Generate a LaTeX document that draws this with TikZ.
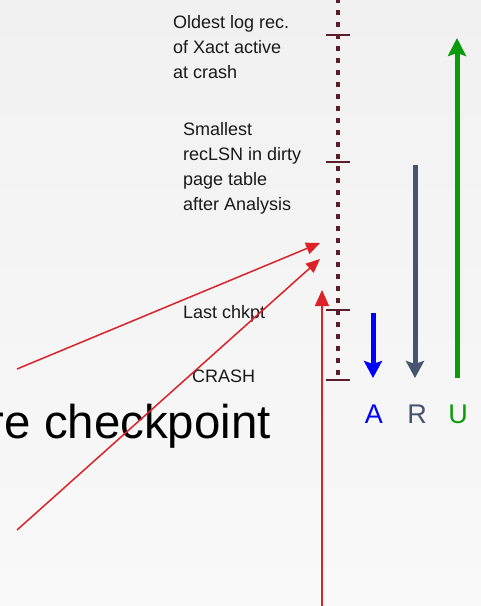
\documentclass[tikz,border=0pt]{standalone}
\usepackage{fontspec}
\setmainfont{Liberation Sans}
\usetikzlibrary{arrows.meta}

\definecolor{logmaroon}{HTML}{5B1D2A}
\definecolor{ptrred}{HTML}{DC2228}
\definecolor{passblue}{HTML}{0000FF}
\definecolor{passslate}{HTML}{465470}
\definecolor{passgreen}{HTML}{0A9A0A}
\definecolor{bgtop}{HTML}{F1F1F1}
\definecolor{bgbot}{HTML}{F9F9F9}

\begin{document}
\begin{tikzpicture}[x=1pt, y=-1pt,
  tick/.style={draw=logmaroon, line width=2.6pt},
  note/.style={inner sep=0pt, align=left, text=black!90, font=\fontsize{18}{25}\selectfont},
  pass/.style={line width=5pt},
  passlbl/.style={inner sep=0pt, anchor=base, font=\fontsize{27}{30}\selectfont},
  ptr/.style={draw=ptrred, line width=1.5pt, -{Triangle[length=14pt,width=12pt]}}]
\useasboundingbox (0,0) rectangle (481,606);
\shade[top color=bgtop, bottom color=bgbot] (0,0) rectangle (481,606);
\clip (0,0) rectangle (481,606);

% the log, oldest record at the top
\coordinate (logtop) at (338,-2);
\coordinate (oldest) at (338,35);
\coordinate (reclsn) at (338,162);
\coordinate (chkpt) at (338,310);
\coordinate (crash) at (338,380);
\draw[logmaroon, line width=4.8pt, dash pattern=on 4.8pt off 7.2pt] (logtop) -- (crash);
\foreach \p in {oldest, reclsn, chkpt, crash}
  \draw[tick] ([xshift=-12pt]\p) -- ([xshift=12pt]\p);

\node[note, anchor=north west] (oldlbl) at (173,15) {Oldest log rec.\\of Xact active\\at crash};
\node[note, anchor=north west] (lsnlbl) at (183,122) {Smallest\\recLSN in dirty\\page table\\after Analysis};
\node[note, anchor=base west] (chklbl) at (183,318) {Last chkpt};
\node[note, anchor=base west] (crashlbl) at (192,382) {CRASH};

\node[inner sep=0pt, anchor=base east, font=\fontsize{47.4}{53}\selectfont] (before) at (271,438) {re checkpoint};

% red pointers into the log
\coordinate (p1s) at (17,369);
\coordinate (p1e) at (320,243);
\coordinate (p2s) at (17,530);
\coordinate (p2e) at (320,259);
\coordinate (p3s) at (322,610);
\coordinate (p3e) at (322,290);
\draw[ptr] (p1s) -- (p1e);
\draw[ptr] (p2s) -- (p2e);
\draw[ptr, -{Triangle[length=16pt,width=14pt]}] (p3s) -- (p3e);

% the three passes
\coordinate (atop) at (373,313);
\coordinate (abot) at (373,378);
\coordinate (rtop) at (415,165);
\coordinate (rbot) at (415,378);
\coordinate (utop) at (457,38);
\coordinate (ubot) at (457,378);
\draw[pass, passblue, -{Stealth[length=17pt,width=18pt,inset=3pt]}] (atop) -- (abot);
\draw[pass, passslate, -{Stealth[length=17pt,width=18pt,inset=3pt]}] (rtop) -- (rbot);
\draw[pass, passgreen, -{Stealth[length=18pt,width=18pt,inset=3pt]}] (ubot) -- (utop);

\node[passlbl, text=passblue] (alab) at (374,423) {A};
\node[passlbl, text=passslate] (rlab) at (417,423) {R};
\node[passlbl, text=passgreen] (ulab) at (458,423) {U};
\end{tikzpicture}
\end{document}
